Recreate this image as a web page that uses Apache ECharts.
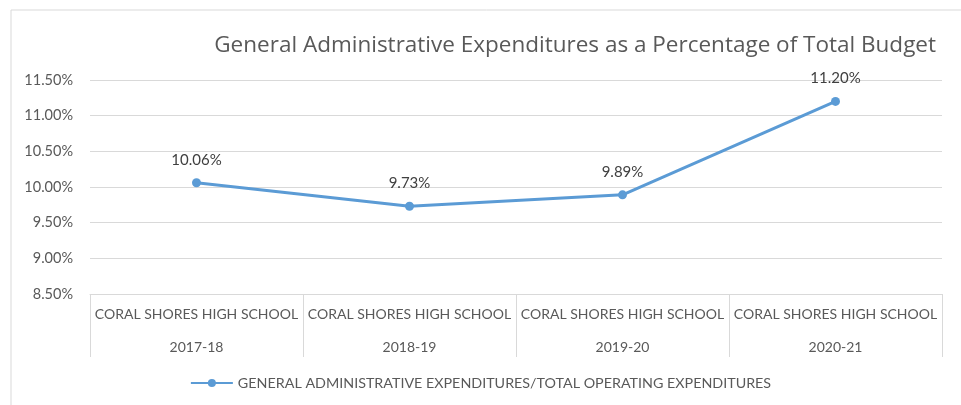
<!DOCTYPE html>
<html><head><meta charset="utf-8">
<script src="https://cdn.jsdelivr.net/npm/echarts@6/dist/echarts.min.js"></script>
<style>html,body{margin:0;padding:0;background:#fff}#c{width:961px;height:405px}</style>
</head><body><div id="c"></div>
<script>
const schools = ['CORAL SHORES HIGH SCHOOL','CORAL SHORES HIGH SCHOOL','CORAL SHORES HIGH SCHOOL','CORAL SHORES HIGH SCHOOL'];
const years = ['2017-18','2018-19','2019-20','2020-21'];
const values = [10.06, 9.73, 9.89, 11.20];
const seriesName = 'GENERAL ADMINISTRATIVE EXPENDITURES/TOTAL OPERATING EXPENDITURES';
const titleText = 'General Administrative Expenditures as a Percentage of Total Budget';
const yMin = 8.5, yMax = 11.5, yStep = 0.5;

const categories = years.map((y,i)=>schools[i]+'\n\n'+y);
const font = 'Lato, "Open Sans", sans-serif';
const chart = echarts.init(document.getElementById('c'));
chart.setOption({
  animation:false,
  textStyle:{fontFamily:font},
  graphic:[{type:'rect',shape:{x:11,y:10,width:970,height:420},style:{fill:'none',stroke:'#D9D9D9',lineWidth:1},silent:true}],
  title:{text:titleText,right:20,top:29,textStyle:{fontFamily:'"Open Sans", sans-serif',fontSize:22.5,fontWeight:'normal',color:'#595959'}},
  grid:{left:90,right:19,top:80,bottom:111},
  legend:{bottom:10,left:'center',itemWidth:42,itemHeight:10,itemGap:5,textStyle:{fontFamily:font,fontSize:14.3,color:'#595959'},data:[seriesName]},
  xAxis:{type:'category',data:categories,boundaryGap:true,
    axisLine:{show:true,lineStyle:{color:'#D9D9D9'}},
    axisTick:{show:true,length:63,interval:0,lineStyle:{color:'#D9D9D9'}},
    axisLabel:{interval:0,margin:12,fontSize:14,lineHeight:16.5,color:'#595959',fontFamily:font}},
  yAxis:{type:'value',min:yMin,max:yMax,interval:yStep,
    axisLine:{show:false},axisTick:{show:false},
    splitLine:{lineStyle:{color:'#D9D9D9'}},
    axisLabel:{margin:17,fontSize:14.5,color:'#595959',fontFamily:font,formatter:v=>v.toFixed(2)+'%'}},
  series:[{name:seriesName,type:'line',data:values,symbol:'circle',symbolSize:9,
    lineStyle:{color:'#5B9BD5',width:3},itemStyle:{color:'#5B9BD5'},
    label:{show:true,position:'top',distance:11,fontSize:15,color:'#404040',fontFamily:font,formatter:p=>p.value.toFixed(2)+'%'}}]
});
</script></body></html>
